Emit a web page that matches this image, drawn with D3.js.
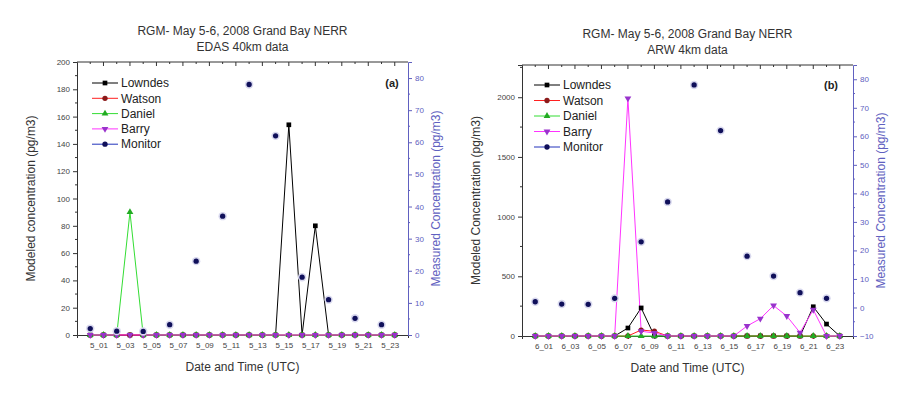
<!DOCTYPE html>
<html>
<head>
<meta charset="utf-8">
<script src="https://cdn.jsdelivr.net/npm/d3@7"></script>
<style>
  body { margin: 0; background: #fff; }
  svg { display: block; font-family: Arial, "Liberation Sans", sans-serif; }
</style>
</head>
<body>
<svg id="chart" width="904" height="394"></svg>
<script>
// hours of the day (UTC), one point each
const hours = [0, 1, 2, 3, 4, 5, 6, 7, 8, 9, 10, 11, 12, 13, 14, 15, 16, 17, 18, 19, 20, 21, 22, 23];
const labelHours = [1, 3, 5, 7, 9, 11, 13, 15, 17, 19, 21, 23];
const tickLabelsA = ["5_01", "5_03", "5_05", "5_07", "5_09", "5_11", "5_13", "5_15", "5_17", "5_19", "5_21", "5_23"];
const tickLabelsB = ["6_01", "6_03", "6_05", "6_07", "6_09", "6_11", "6_13", "6_15", "6_17", "6_19", "6_21", "6_23"];

const seriesNames = ["Lowndes", "Watson", "Daniel", "Barry", "Monitor"];

// panel (a) EDAS 40km, modeled (pg/m3)
const lowndesA = [0, 0, 0, 0, 0, 0, 0, 0, 0, 0, 0, 0, 0, 0, 0, 154, 0, 80, 0, 0, 0, 0, 0, 0];
const watsonA  = [0, 0, 0, 0, 0, 0, 0, 0, 0, 0, 0, 0, 0, 0, 0, 0, 0, 0, 0, 0, 0, 0, 0, 0];
const danielA  = [0, 0, 0, 90, 0, 0, 0, 0, 0, 0, 0, 0, 0, 0, 0, 0, 0, 0, 0, 0, 0, 0, 0, 0];
const barryA   = [0, 0, 0, 0, 0, 0, 0, 0, 0, 0, 0, 0, 0, 0, 0, 0, 0, 0, 0, 0, 0, 0, 0, 0];

// panel (b) ARW 4km, modeled (pg/m3)
const lowndesB = [0, 0, 0, 0, 0, 0, 0, 67, 235, 0, 0, 0, 0, 0, 0, 0, 0, 0, 0, 0, 0, 245, 100, 0];
const watsonB  = [0, 0, 0, 0, 0, 0, 0, 0, 50, 40, 0, 0, 0, 0, 0, 0, 0, 0, 0, 0, 0, 0, 0, 0];
const danielB  = [0, 0, 0, 0, 0, 0, 0, 0, 0, 0, 0, 0, 0, 0, 0, 0, 0, 0, 0, 0, 0, 0, 0, 0];
const barryB   = [0, 0, 0, 0, 0, 0, 0, 1990, 40, 25, 0, 0, 0, 0, 0, 0, 84, 145, 255, 167, 28, 220, 0, 0];

// measured at the monitor (pg/m3), every 2 hours
const monitor = [2, null, 1.2, null, 1.1, null, 3.2, null, 23, null, 37, null, 78, null, 62, null, 18, null, 11, null, 5.2, null, 3.2, null];

// axis ticks
const leftTicksA = [0, 20, 40, 60, 80, 100, 120, 140, 160, 180, 200];
const rightTicksA = [0, 10, 20, 30, 40, 50, 60, 70, 80];
const leftTicksB = [0, 500, 1000, 1500, 2000];
const rightTicksB = [-10, 0, 10, 20, 30, 40, 50, 60, 70, 80];

const styles = [
  { line: "#000000", fill: "#000000", shape: "square" },
  { line: "#ff2020", fill: "#8b1a1a", shape: "circle" },
  { line: "#33dd33", fill: "#22aa22", shape: "up" },
  { line: "#ff33ff", fill: "#9933cc", shape: "down" },
  { line: "#2233bb", fill: "#10105a", shape: "circle" }
];
const rightColor = "#6060c0";

const svg = d3.select("#chart");

function marker(g, shape, x, y, fill) {
  let sym, size, rot = 0;
  if (shape === "square") { sym = d3.symbolSquare; size = 22; }
  else if (shape === "circle") { sym = d3.symbolCircle; size = 22; }
  else if (shape === "up") { sym = d3.symbolTriangle; size = 20; }
  else { sym = d3.symbolTriangle; size = 20; rot = 180; }
  g.append("path")
    .attr("d", d3.symbol().type(sym).size(size)())
    .attr("transform", `translate(${x},${y}) rotate(${rot})`)
    .attr("fill", fill);
}

function drawPanel(p) {
  const g = svg.append("g");
  const x = d3.scaleLinear().domain([-1, 24]).range([p.left, p.right]);
  const y = d3.scaleLinear().domain(p.yDom).range([p.bottom, p.top]);
  const y2 = d3.scaleLinear().domain(p.y2Dom).range([p.bottom, p.top]);

  // frame: top line with inward hour ticks
  g.append("line").attr("x1", p.left).attr("x2", p.right).attr("y1", p.top).attr("y2", p.top)
    .attr("stroke", "#333");
  g.selectAll(".tt").data(hours).enter().append("line")
    .attr("x1", d => x(d)).attr("x2", d => x(d))
    .attr("y1", p.top).attr("y2", d => p.top + (d % 2 ? 4 : 2))
    .attr("stroke", "#333");

  // bottom axis
  const xAxis = g.append("g").attr("transform", `translate(0,${p.bottom})`)
    .call(d3.axisBottom(x).tickValues(labelHours)
      .tickFormat((d, i) => p.tickLabels[i]).tickSize(3).tickPadding(4));
  xAxis.select(".domain").attr("stroke", "#333");
  xAxis.selectAll(".tick line").attr("stroke", "#333");
  xAxis.selectAll("text").attr("font-size", 8).attr("fill", "#444").attr("dx", p.labelShift);

  // left axis
  const yAxis = g.append("g").attr("transform", `translate(${p.left},0)`)
    .call(d3.axisLeft(y).tickValues(p.yTicks).tickFormat(d3.format("d")).tickSize(4).tickPadding(3));
  yAxis.select(".domain").attr("stroke", "#333");
  yAxis.selectAll(".tick line").attr("stroke", "#333");
  yAxis.selectAll("text").attr("font-size", 8).attr("fill", "#444");
  const yStep = p.yTicks[1] - p.yTicks[0];
  g.selectAll(".ym").data(p.yTicks.map(v => v + yStep / 2).filter(v => v < p.yDom[1])).enter().append("line")
    .attr("x1", p.left - 2).attr("x2", p.left).attr("y1", d => y(d)).attr("y2", d => y(d))
    .attr("stroke", "#333");

  // right axis (measured)
  const y2Axis = g.append("g").attr("transform", `translate(${p.right},0)`)
    .call(d3.axisRight(y2).tickValues(p.y2Ticks).tickFormat(d3.format("d")).tickSize(4).tickPadding(3));
  y2Axis.select(".domain").attr("stroke", rightColor);
  y2Axis.selectAll(".tick line").attr("stroke", rightColor);
  y2Axis.selectAll("text").attr("font-size", 8).attr("fill", rightColor);
  g.selectAll(".y2m").data(p.y2Ticks.map(v => v + 5).filter(v => v < p.y2Dom[1])).enter().append("line")
    .attr("x1", p.right).attr("x2", p.right + 2).attr("y1", d => y2(d)).attr("y2", d => y2(d))
    .attr("stroke", rightColor);

  // modeled series
  const line = d3.line().x((d, i) => x(hours[i])).y(d => y(d));
  p.series.forEach((vals, k) => {
    g.append("path").datum(vals).attr("d", line)
      .attr("fill", "none").attr("stroke", styles[k].line).attr("stroke-width", 1);
  });
  p.series.forEach((vals, k) => {
    vals.forEach((v, i) => marker(g, styles[k].shape, x(hours[i]), y(v), styles[k].fill));
  });

  // measured points (no line)
  monitor.forEach((v, i) => {
    if (v === null) return;
    g.append("circle").attr("cx", x(hours[i])).attr("cy", y2(v)).attr("r", 4.2)
      .attr("fill", "#d8d8ee");
    marker(g, "circle", x(hours[i]), y2(v), styles[4].fill);
  });

  // legend
  seriesNames.forEach((name, k) => {
    const ly = p.legY + k * p.legStep;
    g.append("line").attr("x1", p.legX).attr("x2", p.legX + 26).attr("y1", ly).attr("y2", ly)
      .attr("stroke", styles[k].line);
    marker(g, styles[k].shape, p.legX + 13, ly, styles[k].fill);
    g.append("text").attr("x", p.legX + 29).attr("y", ly).attr("dy", "0.35em")
      .attr("font-size", 12).attr("fill", "#222").text(name);
  });

  // panel tag
  g.append("text").attr("x", p.tagX).attr("y", p.tagY).attr("dy", "0.35em")
    .attr("text-anchor", "middle").attr("font-size", 11).attr("font-weight", "bold")
    .attr("fill", "#222").text(p.tag);

  // titles
  const cx = (p.left + p.right) / 2;
  g.append("text").attr("x", cx).attr("y", p.top - 27).attr("text-anchor", "middle")
    .attr("font-size", 12).attr("fill", "#333").text(p.title1);
  g.append("text").attr("x", cx).attr("y", p.top - 11).attr("text-anchor", "middle")
    .attr("font-size", 12).attr("fill", "#333").text(p.title2);

  g.append("text").attr("x", cx).attr("y", p.bottom + 36).attr("text-anchor", "middle")
    .attr("font-size", 12).attr("fill", "#333").text("Date and Time (UTC)");

  const my = (p.top + p.bottom) / 2;
  g.append("text").attr("transform", `translate(${p.left - 42},${my}) rotate(-90)`)
    .attr("text-anchor", "middle").attr("font-size", 12).attr("fill", "#333").text(p.yLabel);
  g.append("text").attr("transform", `translate(${p.right + 32},${my}) rotate(-90)`)
    .attr("text-anchor", "middle").attr("font-size", 12).attr("fill", rightColor)
    .text("Measured Concentration (pg/m3)");
}

drawPanel({
  left: 77, right: 408, top: 62, bottom: 335,
  yDom: [0, 200], yTicks: leftTicksA,
  y2Dom: [0, 85], y2Ticks: rightTicksA,
  tickLabels: tickLabelsA, labelShift: -5,
  series: [lowndesA, watsonA, danielA, barryA],
  legX: 92, legY: 83, legStep: 15.3,
  tag: "(a)", tagX: 392, tagY: 83,
  title1: "RGM- May 5-6, 2008 Grand Bay NERR", title2: "EDAS 40km data",
  yLabel: "Modeled concentration (pg/m3)"
});

drawPanel({
  left: 522, right: 853, top: 65, bottom: 336,
  yDom: [0, 2270], yTicks: leftTicksB,
  y2Dom: [-10, 85], y2Ticks: rightTicksB,
  tickLabels: tickLabelsB, labelShift: -5,
  series: [lowndesB, watsonB, danielB, barryB],
  legX: 534, legY: 85, legStep: 15.5,
  tag: "(b)", tagX: 831, tagY: 85,
  title1: "RGM- May 5-6, 2008 Grand Bay NERR", title2: "ARW 4km data",
  yLabel: "Modeled Concentration (pg/m3)"
});
</script>
</body>
</html>
